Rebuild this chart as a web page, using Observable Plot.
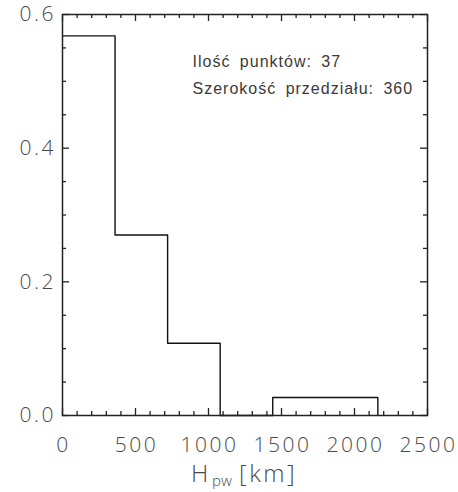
<!DOCTYPE html>
<html><head><meta charset="utf-8">
<script src="https://cdn.jsdelivr.net/npm/d3@7"></script>
<script src="https://cdn.jsdelivr.net/npm/@observablehq/plot@0.6"></script>
<style>
body{margin:0;background:#fff;}
#chart svg{overflow:visible}
.ticklab{letter-spacing:2.5px;font-weight:300}
.info{letter-spacing:1px;word-spacing:4px}
</style></head>
<body><div id="chart"></div>
<script>
// Histogram bins (km) and relative frequencies
const binEdges = [0, 360, 720, 1080, 1440, 1800, 2160];
const fractions = [0.568, 0.270, 0.108, 0.0, 0.027, 0.027];
const xTickLabels = [0, 500, 1000, 1500, 2000, 2500];
const yTickLabels = [0.0, 0.2, 0.4, 0.6];
const xMinorTicks = [100,200,300,400,600,700,800,900,1100,1200,1300,1400,1600,1700,1800,1900,2100,2200,2300,2400];
const yMinorTicks = [0.05,0.1,0.15,0.25,0.3,0.35,0.45,0.5,0.55];
const infoLines = ["Ilość punktów: 37", "Szerokość przedziału: 360"];

const W = 458, H = 492;
const mL = 62, mR = 31, mT = 14, mB = 77;
const pw = W - mL - mR, ph = H - mT - mB;

const steps = binEdges.map((e, i) => ({x: e, y: i < fractions.length ? fractions[i] : 0}));

const labFont = "'Open Sans', 'DejaVu Sans', sans-serif";
const infoFont = "'Liberation Sans', Arial, sans-serif";
const tickCol = "#4a4a4a";
const maj = 7, mnr = 4;

const chart = Plot.plot({
  width: W, height: H,
  marginLeft: mL, marginRight: mR, marginTop: mT, marginBottom: mB,
  style: {fontFamily: labFont, background: "#fff"},
  x: {domain: [0, 2500], axis: null},
  y: {domain: [0, 0.6], axis: null},
  marks: [
    Plot.line(steps, {x: "x", y: "y", curve: "step-after", stroke: "#111", strokeWidth: 1.4}),
    // inward tick marks
    Plot.ruleX(xTickLabels, {stroke: "#222", strokeWidth: 1.3, insetTop: ph - maj}),
    Plot.ruleX(xTickLabels, {stroke: "#222", strokeWidth: 1.3, insetBottom: ph - maj}),
    Plot.ruleX(xMinorTicks, {stroke: "#222", strokeWidth: 1.3, insetTop: ph - mnr}),
    Plot.ruleX(xMinorTicks, {stroke: "#222", strokeWidth: 1.3, insetBottom: ph - mnr}),
    Plot.ruleY(yTickLabels, {stroke: "#222", strokeWidth: 1.3, insetRight: pw - maj}),
    Plot.ruleY(yTickLabels, {stroke: "#222", strokeWidth: 1.3, insetLeft: pw - maj}),
    Plot.ruleY(yMinorTicks, {stroke: "#222", strokeWidth: 1.3, insetRight: pw - mnr}),
    Plot.ruleY(yMinorTicks, {stroke: "#222", strokeWidth: 1.3, insetLeft: pw - mnr}),
    Plot.frame({stroke: "#222", strokeWidth: 1.5}),
    // tick labels
    Plot.text(xTickLabels, {x: d => d, frameAnchor: "bottom", dx: 1, dy: 30, text: d => String(d),
      fontSize: 21, fill: tickCol, textAnchor: "middle", lineAnchor: "middle", className: "ticklab"}),
    Plot.text(yTickLabels, {y: d => d, frameAnchor: "left", dx: -6.5, text: d => d.toFixed(1),
      fontSize: 21, fill: tickCol, textAnchor: "end", lineAnchor: "middle", className: "ticklab"}),
    // annotation
    Plot.text([infoLines[0]], {frameAnchor: "top-left", dx: 130, dy: 47, fontSize: 16, fill: "#3a3a3a",
      fontFamily: infoFont, textAnchor: "start", lineAnchor: "middle", className: "info"}),
    Plot.text([infoLines[1]], {frameAnchor: "top-left", dx: 130, dy: 74, fontSize: 16, fill: "#3a3a3a",
      fontFamily: infoFont, textAnchor: "start", lineAnchor: "middle", className: "info"})
  ]
});

// axis title with subscript
const svg = d3.select(chart);
const t = svg.append("text").attr("font-family", labFont).attr("font-weight", 300)
  .attr("fill", tickCol).attr("text-anchor", "start");
t.append("tspan").attr("x", 191).attr("y", 482).attr("font-size", 24).text("H");
t.append("tspan").attr("x", 212).attr("y", 486).attr("font-size", 15).text("pw");
t.append("tspan").attr("x", 239).attr("y", 482).attr("font-size", 24).attr("letter-spacing", "2.5px").text("[km]");

document.getElementById("chart").appendChild(chart);
</script>
</body></html>
